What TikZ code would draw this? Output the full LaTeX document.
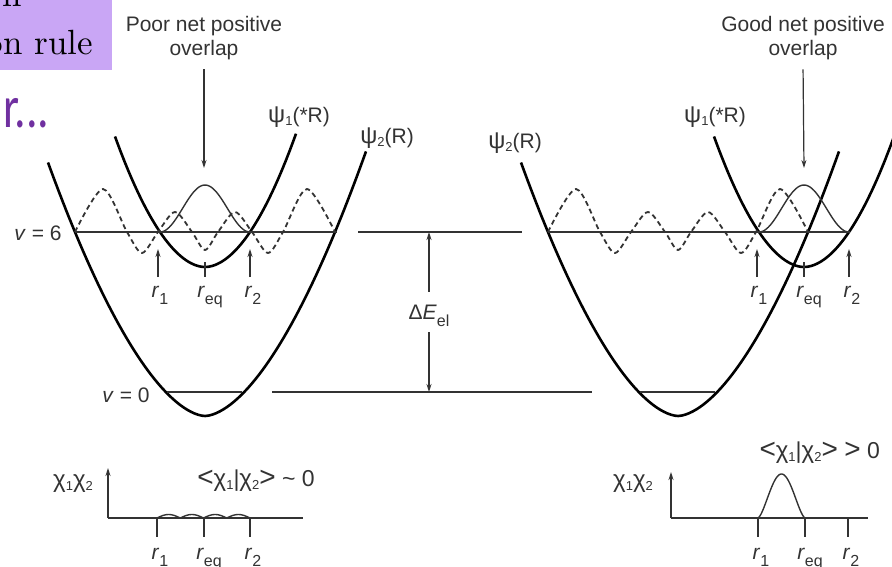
\documentclass[tikz,border=0pt]{standalone}
\usepackage{fontspec}
\newfontfamily\figfont{Liberation Sans}
\newfontfamily\slidefont{Carlito}
\newfontfamily\slideserif{lmroman10-regular}[Extension=.otf]
\usetikzlibrary{arrows.meta}
\definecolor{boxlav}{HTML}{C9A6F5}
\definecolor{slidepurple}{HTML}{7030A0}
\definecolor{figgray}{HTML}{333333}
\newcommand{\lo}[1]{\raisebox{-7pt}{\fontsize{16}{16}\selectfont #1}}
\newcommand{\sm}[1]{\raisebox{-3pt}{\fontsize{13}{13}\selectfont #1}}
\newcommand{\gk}[1]{{\fontsize{24}{24}\selectfont #1}}
\newcommand{\bigrel}[1]{{\fontsize{28}{28}\selectfont #1}}
\begin{document}
\begin{tikzpicture}[x=1pt, y=-1pt, font=\figfont\fontsize{21}{24}\selectfont, text=figgray,
    pot/.style={line width=2.6pt, black, line join=round},
    level/.style={line width=1.2pt, figgray},
    arr/.style={line width=1.2pt, figgray, -{Stealth[length=8pt, width=5pt]}},
    axis/.style={line width=2pt, black!80},
    gauss/.style={line width=1.4pt, black!80},
    chi/.style={line width=1.8pt, black!80, dash pattern=on 5pt off 3.5pt},
    chilabel/.style={font=\figfont\fontsize{23}{25}\selectfont}]
  \useasboundingbox (0,0) rectangle (892,567);
  \clip (0,0) rectangle (892,567);
  % what is left of the slide
  \fill[boxlav] (0,0) rectangle (112,70);
  \node[anchor=base east, inner sep=0pt, font=\slideserif\fontsize{35}{40}\selectfont, text=black] (boxtop) at (22,7) {n};
  \node[anchor=base east, inner sep=0pt, font=\slideserif\fontsize{35}{40}\selectfont, text=black] (boxrule) at (93,55) {on rule};
  \node[anchor=base west, inner sep=0pt, font=\slidefont\fontsize{46}{50}\selectfont, text=slidepurple] (more) at (3,128) {\scalebox{1}[1.3]{r...}};
  % wells, levels and wavefunctions
  \foreach \o/\i/\s in {205/205/L, 678/804/R} {
    \draw[pot] plot[domain=\o-157:\o+161, samples=90] (\x, {416-0.04687*pow(abs(\x-\o)+0.01,1.7)});
    \draw[pot] plot[domain=\i-90:\i+91, samples=70] (\x, {267-0.02527*pow(abs(\x-\i)+0.01,1.9)});
    \draw[level] (\o-130,232) -- ({max(\o+132,\i+46)},232);
    \draw[level] (\o-38,392) -- (\o+37,392);
    \draw[chi, shift={(\o,0)}] plot[smooth] coordinates {(-130,232) (-102,189) (-78,232)
      (-63,253) (-47,232) (-30,212) (-13,232) (0,250) (13,232) (30,212) (47,232) (63,253)
      (78,232) (102,189) (130,232)};
    \draw[gauss] plot[domain=-45:45, samples=50] ({\i+\x}, {232-47*pow(cos(2*\x),2)});
    \draw[level] (\i,262) -- (\i,277);
    \node[anchor=base] (r1\s) at (\i-45,297) {\textit{r}\lo{1}};
    \node[anchor=base] (req\s) at (\i+5,297) {\textit{r}\lo{eq}};
    \node[anchor=base] (r2\s) at (\i+48,297) {\textit{r}\lo{2}};
    \coordinate (a1\s) at (\i-47,249);
    \coordinate (a2\s) at (\i+45,249);
    \draw[arr, shorten <=5pt] (r1\s.north -| a1\s) -- (a1\s);
    \draw[arr, shorten <=5pt] (r2\s.north -| a2\s) -- (a2\s);
  }
  \node (v6) at (38,233) {\textit{v} = 6};
  \node (v0) at (126,395) {\textit{v} = 0};
  \node (psi1L) at (299,117) {\gk{ψ}\sm{1}(*R)};
  \node (psi2L) at (387,138) {\gk{ψ}\sm{2}(R)};
  \node (psi2R) at (515,143) {\gk{ψ}\sm{2}(R)};
  \node (psi1R) at (715,117) {\gk{ψ}\sm{1}(*R)};
  % overlap remarks
  \node[align=center] (poor) at (204,38) {Poor net positive\\overlap};
  \node[align=center] (good) at (803,38) {Good net positive\\overlap};
  \coordinate (poorpk) at (204,168);
  \coordinate (goodpk) at (804,168);
  \draw[arr, shorten <=6pt] (poor.south) -- (poorpk);
  \draw[arr, shorten <=6pt] (good.south) -- (goodpk);
  % electronic gap
  \draw[level] (358,232) -- (522,232);
  \draw[level] (272,392) -- (592,392);
  \node (dE) at (429,316) {Δ\textit{E}\lo{el}};
  \coordinate (dEtop) at (429,232);
  \coordinate (dEbot) at (429,392);
  \draw[arr, shorten <=10pt] (dE.north) -- (dEtop);
  \draw[arr, shorten <=2pt] (dE.south) -- (dEbot);
  % product of the vibrational functions
  \foreach \ox/\xe/\yt/\a/\b/\c/\s in {108/303/468/157/204/250/L, 671/868/472/758/805/848/R} {
    \coordinate (o\s) at (\ox,518);
    \coordinate (yt\s) at (\ox,\yt);
    \coordinate (xe\s) at (\xe,518);
    \draw[arr] (o\s) -- (yt\s);
    \draw[axis] (o\s) -- (xe\s);
    \foreach \t in {\a,\b,\c} \draw[level] (\t,518) -- (\t,537);
    \node[anchor=base] (pr1\s) at (\a+3,559) {\textit{r}\lo{1}};
    \node[anchor=base] (preq\s) at (\b+5,559) {\textit{r}\lo{eq}};
    \node[anchor=base] (pr2\s) at (\c+3,559) {\textit{r}\lo{2}};
  }
  \draw[gauss] plot[domain=0:93, samples=80] (157+\x, {518-3.5*abs(sin(7.742*\x))});
  \draw[gauss] plot[domain=0:47, samples=50] (758+\x, {518-44*pow(abs(sin(3.83*\x))+0.0001,1.5)});
  \node[chilabel] (chiL) at (73,484) {\gk{χ}\sm{1}\gk{χ}\sm{2}};
  \node[chilabel] (chiR) at (633,484) {\gk{χ}\sm{1}\gk{χ}\sm{2}};
  \node[chilabel] (ovL) at (256,481) {\bigrel{<}\gk{χ}\sm{1}|\gk{χ}\sm{2}\bigrel{>} \textasciitilde{} 0};
  \node[chilabel, anchor=west] (ovR) at (756,453) {\bigrel{<}\gk{χ}\sm{1}|\gk{χ}\sm{2}\bigrel{>} \bigrel{>} 0};
\end{tikzpicture}
\end{document}
